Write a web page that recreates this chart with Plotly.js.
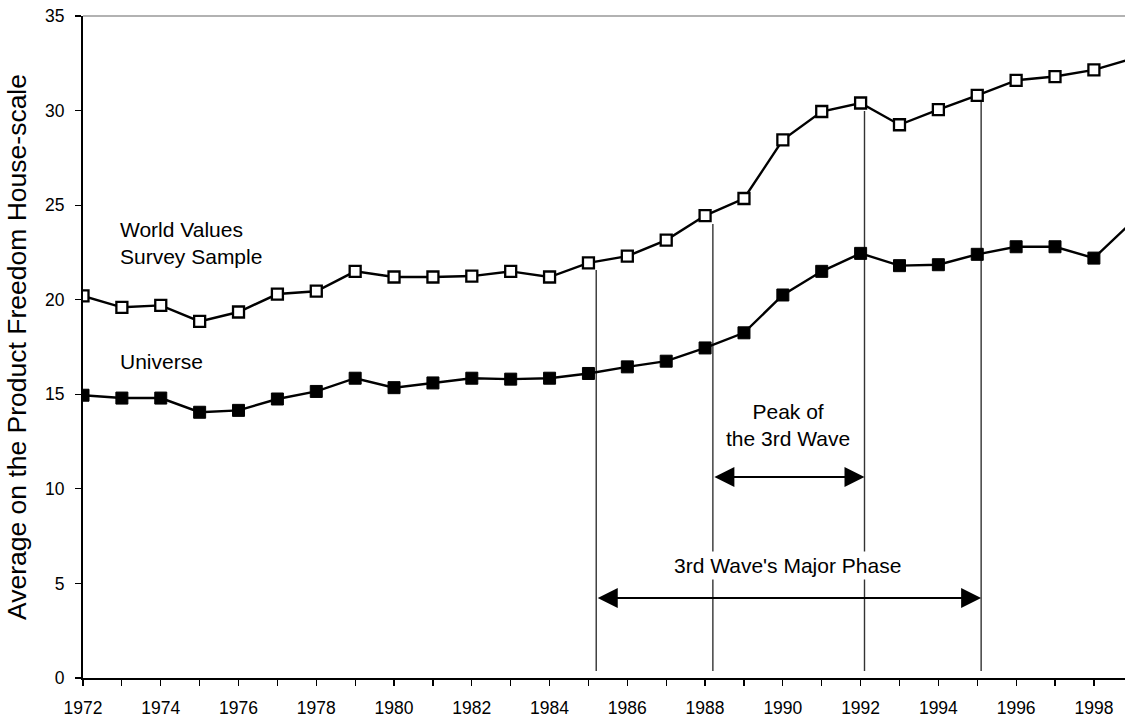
<!DOCTYPE html>
<html>
<head>
<meta charset="utf-8">
<script src="https://cdn.plot.ly/plotly-3.0.1.min.js"></script>
<style>html,body{margin:0;padding:0;background:#fff;}#chart{width:1125px;height:718px;}</style>
</head>
<body>
<div id="chart"></div>
<script>
// ---- data ----
const years = [1972,1973,1974,1975,1976,1977,1978,1979,1980,1981,1982,1983,1984,1985,
               1986,1987,1988,1989,1990,1991,1992,1993,1994,1995,1996,1997,1998,1999];
const wvsSample = [20.2,19.6,19.7,18.85,19.35,20.3,20.45,21.5,21.2,21.2,21.25,21.5,21.2,21.95,
                   22.3,23.15,24.45,25.35,28.45,29.95,30.4,29.25,30.05,30.8,31.6,31.8,32.15,32.75];
const universe = [14.95,14.8,14.8,14.05,14.15,14.75,15.15,15.85,15.35,15.6,15.85,15.8,15.85,16.1,
                  16.45,16.75,17.45,18.25,20.25,21.5,22.45,21.8,21.85,22.4,22.8,22.8,22.2,24.15];
const seriesNames = ["World Values Survey Sample", "Universe"];
const yTitle = "Average on the Product Freedom House-scale";

// reference lines (year, top value) and period arrows
const markYears = [1985.2, 1988.2, 1992.1, 1995.1];
const markTops  = [21.57, 24.0, 29.98, 30.56];
const markBottom = 0.37;
const peakPeriod = [1988.2, 1992.1];
const majorPeriod = [1985.2, 1995.1];

const FONT = "Liberation Sans, Arial, Helvetica, sans-serif";

const traces = [
  {x: years, y: wvsSample, name: seriesNames[0], type: "scatter", mode: "lines+markers",
   line: {color: "#000", width: 2.4},
   marker: {symbol: "square", size: 11, color: "#fff", line: {color: "#000", width: 2.3}}},
  {x: years, y: universe, name: seriesNames[1], type: "scatter", mode: "lines+markers",
   line: {color: "#000", width: 2.4},
   marker: {symbol: "square", size: 12, color: "#000", line: {color: "#000", width: 1}}}
];

const shapes = markYears.map((yr, i) => ({
  type: "line", xref: "x", yref: "y", x0: yr, x1: yr, y0: markBottom, y1: markTops[i],
  line: {color: "#333", width: 1.4}, layer: "below"
}));
shapes.push({type: "line", xref: "paper", yref: "paper", x0: 0, x1: 1, y0: 1, y1: 1,
  line: {color: "#666", width: 1.2}});

function dblArrow(x0, x1, y) {
  return {x: x1, y: y, ax: x0, ay: y, xref: "x", yref: "y", axref: "x", ayref: "y",
    text: "", showarrow: true, arrowhead: 2, startarrowhead: 2, arrowside: "end+start",
    arrowwidth: 2, arrowsize: 2.0, startarrowsize: 2.0, arrowcolor: "#000",
    standoff: 0, startstandoff: 0};
}

const annotations = [
  {x: 1972.9, y: 23.0, xref: "x", yref: "y", text: "World Values<br>Survey Sample",
   showarrow: false, xanchor: "left", align: "left", font: {family: FONT, size: 21, color: "#000"}},
  {x: 1972.9, y: 16.76, xref: "x", yref: "y", text: "Universe",
   showarrow: false, xanchor: "left", align: "left", font: {family: FONT, size: 21, color: "#000"}},
  {x: 1990.13, y: 13.35, xref: "x", yref: "y", text: "Peak of<br>the 3rd Wave",
   showarrow: false, xanchor: "center", align: "center", font: {family: FONT, size: 21, color: "#000"}},
  {x: 1990.13, y: 5.97, xref: "x", yref: "y", text: "3rd Wave's Major Phase",
   showarrow: false, xanchor: "center", align: "center", bgcolor: "#fff", borderpad: 2,
   font: {family: FONT, size: 21, color: "#000"}},
  dblArrow(peakPeriod[0], peakPeriod[1], 10.63),
  dblArrow(majorPeriod[0], majorPeriod[1], 4.23)
];

const layout = {
  width: 1125, height: 718,
  margin: {l: 83, r: 0, t: 16, b: 40},
  paper_bgcolor: "#fff", plot_bgcolor: "#fff",
  showlegend: false,
  font: {family: FONT, color: "#000"},
  xaxis: {
    range: [1972, 1998.8], tickmode: "linear", tick0: 1972, dtick: 2,
    ticks: "outside", ticklen: 6, tickwidth: 1.2, tickcolor: "#000",
    showline: true, linecolor: "#000", linewidth: 2,
    showgrid: false, zeroline: false,
    tickfont: {family: FONT, size: 17.5, color: "#000"},
    ticklabelstandoff: 7,
    minor: {tickmode: "linear", tick0: 1972, dtick: 1, ticks: "outside", ticklen: 6,
            tickwidth: 1.2, tickcolor: "#000", showgrid: false}
  },
  yaxis: {
    range: [0, 35], tickmode: "linear", tick0: 0, dtick: 5,
    ticks: "outside", ticklen: 6, tickwidth: 1.2, tickcolor: "#000",
    showline: true, linecolor: "#000", linewidth: 2,
    showgrid: false, zeroline: false,
    tickfont: {family: FONT, size: 17.5, color: "#000"},
    ticklabelstandoff: 7,
    title: {text: yTitle, font: {family: FONT, size: 26.5, color: "#000"}, standoff: 11}
  },
  shapes: shapes,
  annotations: annotations
};

Plotly.newPlot("chart", traces, layout, {displayModeBar: false, staticPlot: true});
</script>
</body>
</html>
